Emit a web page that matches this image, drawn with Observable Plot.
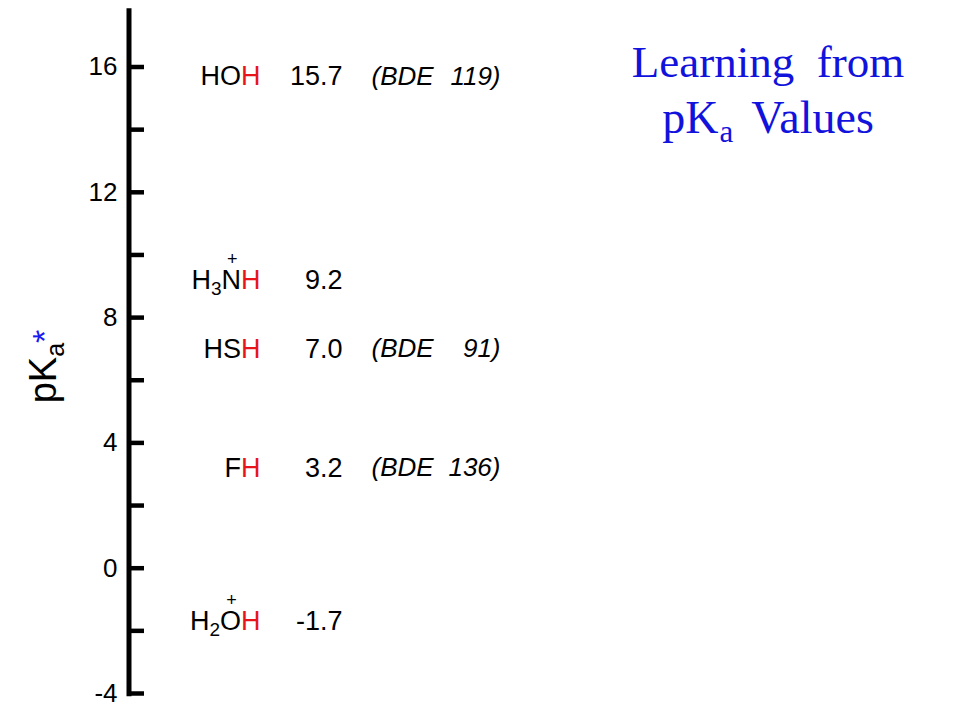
<!DOCTYPE html>
<html>
<head>
<meta charset="utf-8">
<script src="https://cdn.jsdelivr.net/npm/d3@7"></script>
<script src="https://cdn.jsdelivr.net/npm/@observablehq/plot@0.6"></script>
<style>
  body { margin: 0; background: #fff; }
  #wrap { position: relative; width: 960px; height: 720px; overflow: hidden; }
  #title {
    position: absolute; left: 618px; top: 34px; width: 300px;
    text-align: center; font-family: "Liberation Serif", "Times New Roman", serif;
    font-size: 45px; line-height: 56px; color: #1212dd; white-space: nowrap;
  }
  #title .l2 { font-size: 46px; }
  #title .sub { font-size: 31px; position: relative; top: 9px; margin-left: 1px; }
  #title .w { margin-left: 18px; }
</style>
</head>
<body>
<div id="wrap">
  <div id="title">Learning&nbsp; from<br><span class="l2">pK<span class="sub">a</span><span class="w">Values</span></span></div>
</div>
<script>
// ---- data ----
const majorTicks = [-4, 0, 4, 8, 12, 16];
const minorTicks = [-2, 2, 6, 10, 14];
const formulas   = ["HO", "H_3N^+", "HS", "F", "H_2O^+"];   // acidic H is appended (red)
const pKaValues  = [15.7, 9.2, 7.0, 3.2, -1.7];
const pKaLabels  = ["15.7", "9.2", "7.0", "3.2", "-1.7"];
const bdeValues  = [119, null, 91, 136, null];
const axisExtent = [-4.1, 17.86];

const rows = formulas.map((f, i) => ({formula: f, pKa: pKaValues[i], label: pKaLabels[i], bde: bdeValues[i]}));
const bdeRows = rows.filter(d => d.bde != null);
const allTicks = majorTicks.concat(minorTicks);

const RED = "#e8141b";
const BLUE = "#1a1af0";
const SANS = "'Liberation Sans', Arial, sans-serif";

const chart = Plot.plot({
  width: 960, height: 720, margin: 0,
  style: {fontFamily: SANS, fontSize: "26px", background: "white", color: "black"},
  x: {domain: [0, 960], range: [0, 960], axis: null},
  y: {domain: [-4, 16], range: [693, 66.5], axis: null},
  marks: [
    Plot.ruleX([128.5], {y1: axisExtent[0], y2: axisExtent[1], strokeWidth: 5, stroke: "black"}),
    Plot.ruleY(allTicks, {y: d => d, x1: 129, x2: 144, strokeWidth: 4.5, stroke: "black"}),
    Plot.text(majorTicks, {y: d => d, x: 117, text: d => String(d), textAnchor: "end", fontSize: 26, fill: "black"}),
    Plot.text(rows, {y: "pKa", x: 260, text: "formula", textAnchor: "end", fontSize: 27, fill: "black", className: "formula"}),
    Plot.text(rows, {y: "pKa", x: 342, text: "label", textAnchor: "end", fontSize: 27, fill: "black"}),
    Plot.text(bdeRows, {y: "pKa", x: 371, text: () => "(BDE", textAnchor: "start", fontSize: 26, fontStyle: "italic", fill: "black"}),
    Plot.text(bdeRows, {y: "pKa", x: 500, text: d => d.bde + ")", textAnchor: "end", fontSize: 26, fontStyle: "italic", fill: "black"}),
    Plot.text(["pKa*"], {frameAnchor: "left", dx: 43, dy: 6, rotate: -90, text: d => d, fontSize: 38, textAnchor: "middle", fill: "black", className: "ytitle"})
  ]
});

document.getElementById("wrap").prepend(chart);

const NS = "http://www.w3.org/2000/svg";
function ts(parent, text, attrs = {}) {
  const t = document.createElementNS(NS, "tspan");
  t.textContent = text;
  for (const k in attrs) t.setAttribute(k, attrs[k]);
  parent.appendChild(t);
  return t;
}

// formulas: subscripts, red acidic H, charge above atom (all inside one text element)
d3.select(chart).selectAll("g.formula text").each(function(_, i) {
  const f = rows[i].formula;
  const tokens = [];
  for (let k = 0; k < f.length; k++) {
    const c = f[k];
    if (c === "_") tokens.push({t: f[++k], kind: "sub"});
    else if (c === "^") tokens.push({t: f[++k], kind: "charge"});
    else tokens.push({t: c, kind: "main"});
  }
  tokens.push({t: "H", kind: "main", red: true});
  this.textContent = "";
  const shift = {main: 0, sub: 6, charge: -24};
  const size = {main: null, sub: 19, charge: 18};
  let current = 0;
  const spans = [];
  for (const tok of tokens) {
    const a = {};
    const target = shift[tok.kind];
    if (target !== current) a.dy = target - current;
    current = target;
    if (size[tok.kind]) a["font-size"] = size[tok.kind];
    if (tok.red) a.fill = RED;
    spans.push({el: ts(this, tok.t, a), kind: tok.kind});
  }
  // centre each charge over the preceding atom, then restore the pen position
  spans.forEach((s, k) => {
    if (s.kind !== "charge") return;
    const atom = spans[k - 1].el, next = spans[k + 1] && spans[k + 1].el;
    const wA = atom.getComputedTextLength(), wP = s.el.getComputedTextLength();
    s.el.setAttribute("dx", -(wA / 2 + wP / 2) + 1);
    if (next) next.setAttribute("dx", wA / 2 - wP / 2 - 1);
  });
});

// y-axis title: pK, subscript a, blue asterisk
d3.select(chart).selectAll("g.ytitle text").each(function() {
  this.textContent = "";
  ts(this, "pK");
  ts(this, "a", {"font-size": 25, dy: 8});
  ts(this, "*", {"font-size": 34, dy: -8, fill: BLUE});
});
</script>
</body>
</html>
